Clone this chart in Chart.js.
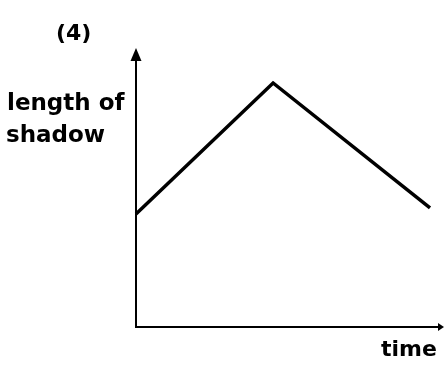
<!DOCTYPE html>
<html>
<head>
<meta charset="utf-8">
<script src="https://cdn.jsdelivr.net/npm/chart.js@4"></script>
<style>
  html, body { margin: 0; padding: 0; background: #fff; }
  canvas { display: block; }
</style>
</head>
<body>
<canvas id="chart" width="446" height="371"></canvas>
<script>
// points of the sketch: time (x) and length of shadow (y), both on a 0..10 scale
var timeValues = [0, 4.57, 9.8];
var shadowLengths = [4.23, 9.14, 4.46];
var axisMin = 0;
var axisMax = 10;

var panelLabel = "(4)";
var yLabelLines = ["length of", "shadow"];
var xLabel = "time";

// arrow heads + the hand written labels
var sketchPlugin = {
    id: "sketch",
    afterDraw: function(chart) {
        var ctx = chart.ctx;
        var area = chart.chartArea;
        ctx.save();
        ctx.fillStyle = "#000";
        ctx.strokeStyle = "#000";

        // y axis arrow
        ctx.beginPath();
        ctx.moveTo(area.left, area.top - 12);
        ctx.lineTo(area.left - 5.5, area.top + 1);
        ctx.lineTo(area.left + 5.5, area.top + 1);
        ctx.closePath();
        ctx.fill();

        // x axis arrow
        ctx.lineWidth = 2;
        ctx.beginPath();
        ctx.moveTo(area.right - 2, area.bottom);
        ctx.lineTo(area.right + 4, area.bottom);
        ctx.stroke();
        ctx.beginPath();
        ctx.moveTo(area.right + 8, area.bottom);
        ctx.lineTo(area.right + 2, area.bottom - 4);
        ctx.lineTo(area.right + 2, area.bottom + 4);
        ctx.closePath();
        ctx.fill();

        ctx.textBaseline = "alphabetic";
        ctx.textAlign = "left";
        ctx.font = "bold 22px 'DejaVu Sans'";
        ctx.fillText(panelLabel, 56, 40);
        ctx.fillText(xLabel, 381, 356);
        ctx.font = "bold 23px 'DejaVu Sans'";
        ctx.fillText(yLabelLines[0], 7, 110);
        ctx.fillText(yLabelLines[1], 6, 142);
        ctx.restore();
    }
};

var points = [];
for (var i = 0; i < timeValues.length; i++) {
    points.push({ x: timeValues[i], y: shadowLengths[i] });
}

var ctx = document.getElementById("chart").getContext("2d");
var chart = new Chart(ctx, {
    type: "line",
    data: {
        datasets: [{
            data: points,
            borderColor: "#000",
            borderWidth: 3.5,
            pointRadius: 0,
            tension: 0,
            fill: false,
            clip: false
        }]
    },
    options: {
        responsive: false,
        animation: false,
        layout: {
            padding: { left: 128, top: 60, right: 10, bottom: 36 }
        },
        plugins: {
            legend: { display: false },
            tooltip: { enabled: false },
            title: { display: false }
        },
        scales: {
            x: {
                type: "linear",
                min: axisMin,
                max: axisMax,
                grid: { display: false },
                ticks: { display: false },
                border: { display: true, color: "#000", width: 2 }
            },
            y: {
                type: "linear",
                min: axisMin,
                max: axisMax,
                grid: { display: false },
                ticks: { display: false },
                border: { display: true, color: "#000", width: 2 }
            }
        }
    },
    plugins: [sketchPlugin]
});
</script>
</body>
</html>
